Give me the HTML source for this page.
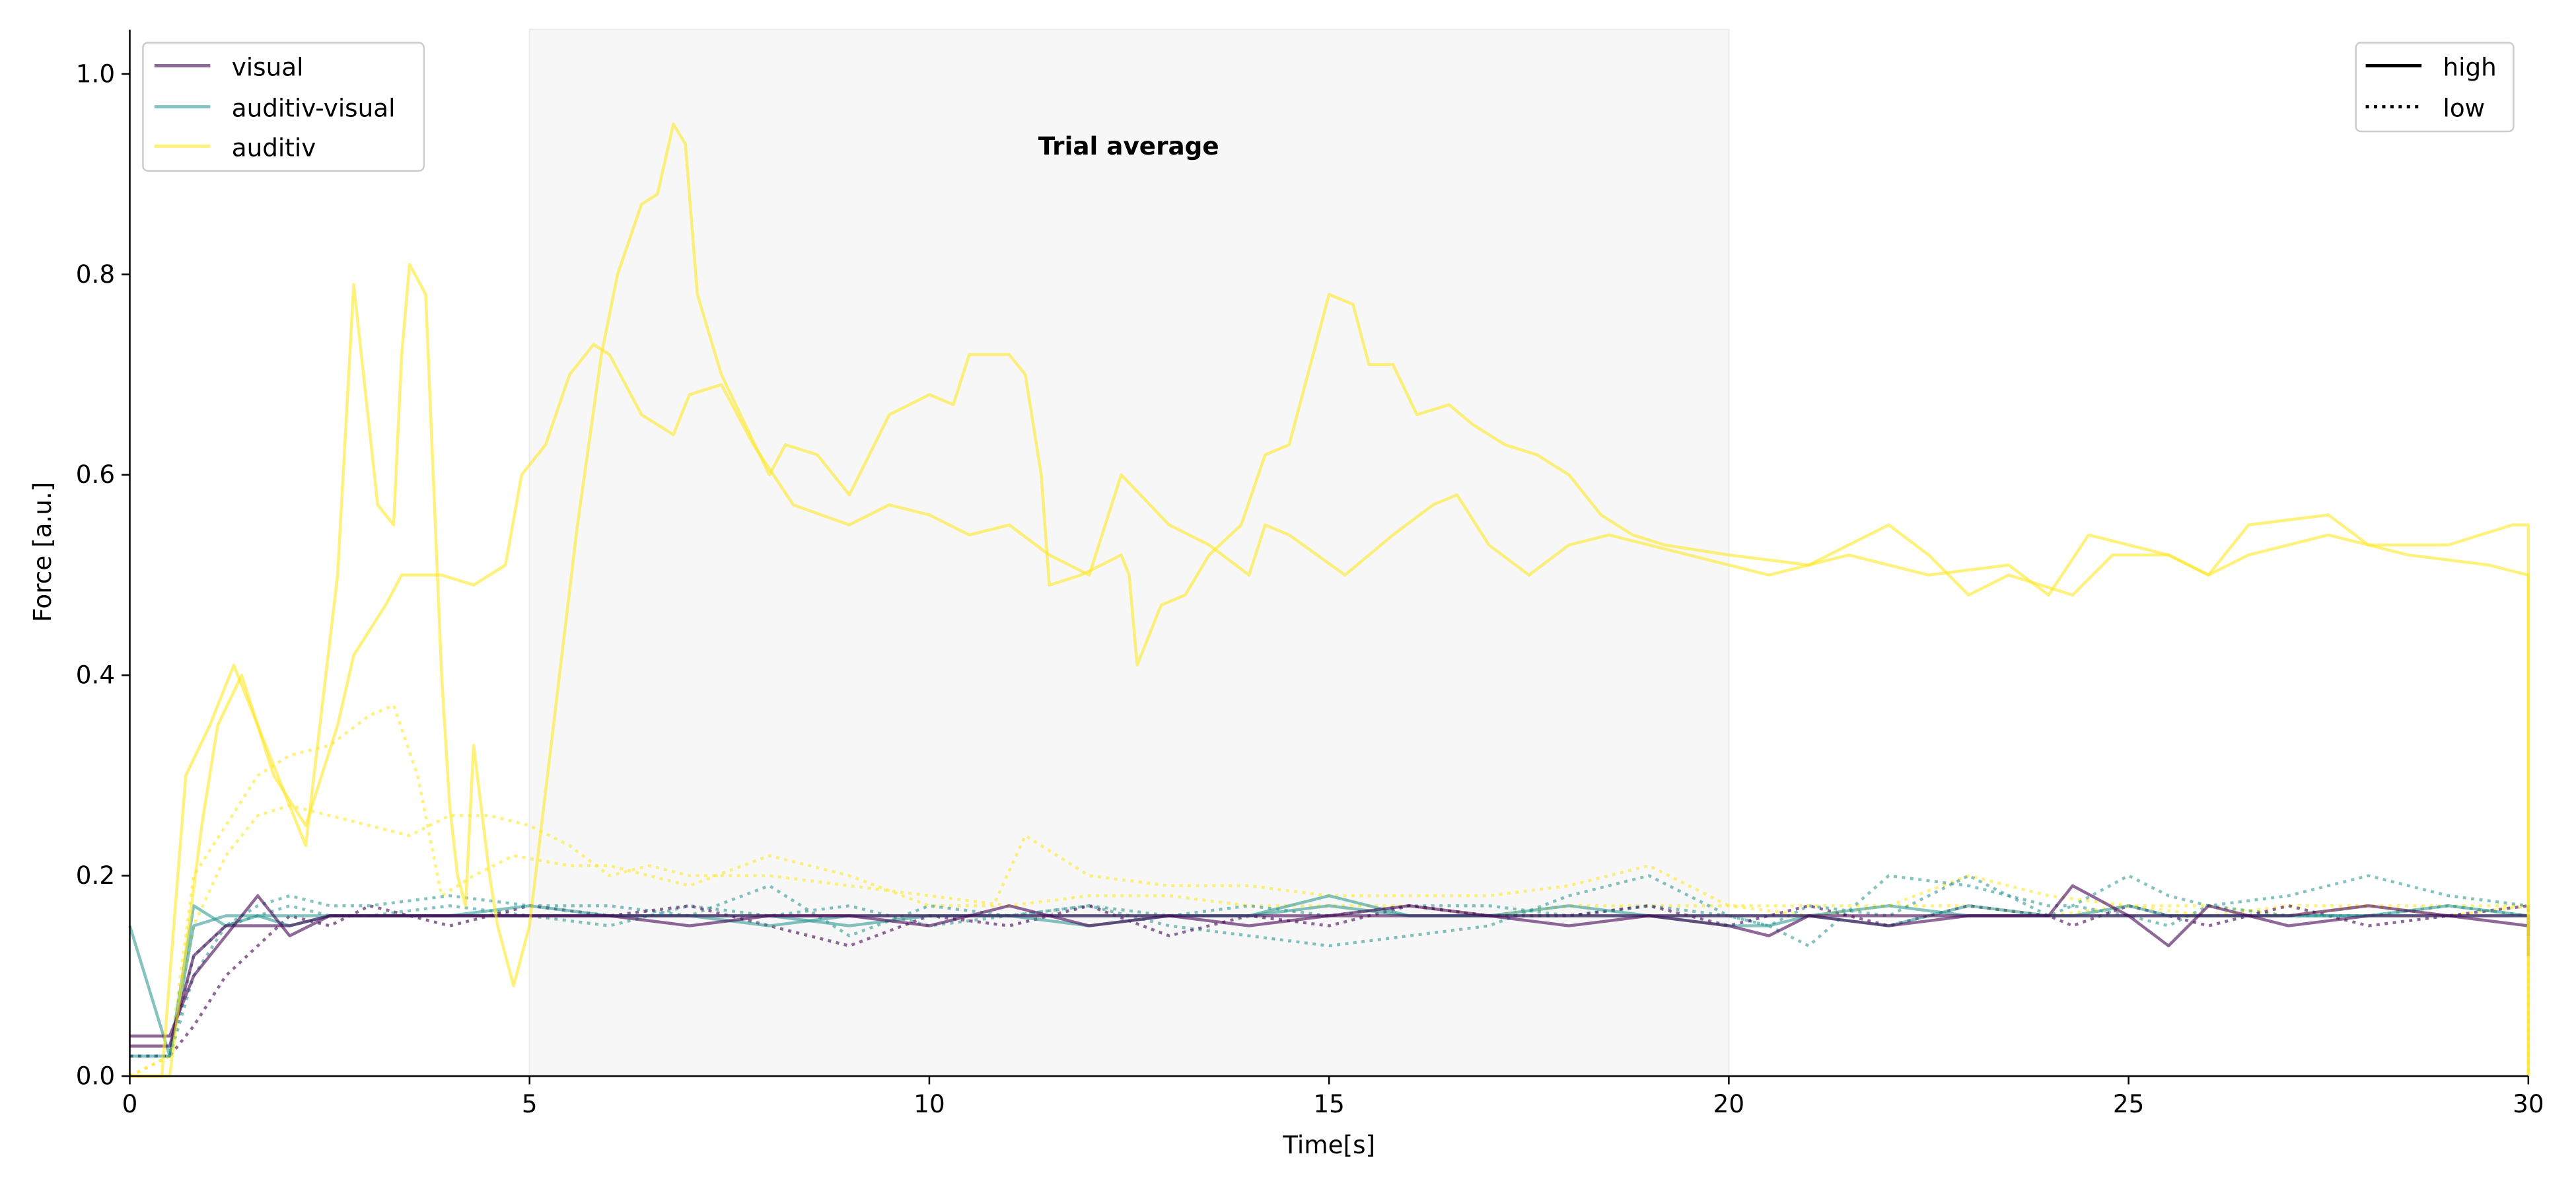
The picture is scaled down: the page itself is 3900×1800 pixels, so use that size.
<!DOCTYPE html>
<html><head><meta charset="utf-8"><style>
html,body{margin:0;padding:0;background:#fff;}
svg{display:block;font-family:"DejaVu Sans","Liberation Sans",sans-serif;}
</style></head><body>
<svg id="chart" width="3900" height="1800" viewBox="0 0 1568 723.7" xmlns="http://www.w3.org/2000/svg">
<rect id="shade" fill="#f7f7f7" stroke="#eeeeee"/>
<text x="687" y="94" text-anchor="middle" font-size="15" font-weight="bold">Trial average</text>
<g id="lines"></g>
<g id="axes"></g>
<text x="809" y="702" text-anchor="middle" font-size="15">Time[s]</text>
<text transform="translate(31,336) rotate(-90)" text-anchor="middle" font-size="15">Force [a.u.]</text>
<g>
<rect x="87" y="26" width="171" height="78" rx="3" fill="#fff" stroke="#ccc"/>
<line x1="94" y1="40" x2="128" y2="40" stroke="#440154" stroke-opacity="0.6" stroke-width="2"/>
<text x="141" y="46" font-size="15">visual</text>
<line x1="94" y1="65" x2="128" y2="65" stroke="#21918c" stroke-opacity="0.55" stroke-width="2"/>
<text x="141" y="71" font-size="15">auditiv-visual</text>
<line x1="94" y1="89" x2="128" y2="89" stroke="#fde725" stroke-opacity="0.6" stroke-width="2"/>
<text x="141" y="95" font-size="15">auditiv</text>
</g>
<g>
<rect x="1434" y="26" width="96" height="54" rx="3" fill="#fff" stroke="#ccc"/>
<line x1="1440" y1="40" x2="1474" y2="40" stroke="#000" stroke-width="2"/>
<text x="1487" y="46" font-size="15">high</text>
<line x1="1440" y1="65" x2="1474" y2="65" stroke="#000" stroke-width="2" stroke-dasharray="2,3"/>
<text x="1487" y="71" font-size="15">low</text>
</g>
</svg>
<script>
const xTicks=[0,5,10,15,20,25,30];
const yTicks=[0,0.2,0.4,0.6,0.8,1.0];
const shadeRange=[5,20];
const audHighAT=[0,0.4,0.7,1.0,1.3,1.6,2.0,2.2,2.6,2.8,3.1,3.3,3.4,3.5,3.7,3.9,4.0,4.1,4.2,4.3,4.5,4.6,4.8,5.0,5.3,5.6,5.9,6.1,6.4,6.6,6.8,6.95,7.1,7.4,7.7,8.0,8.2,8.6,9.0,9.5,10.0,10.3,10.5,11.0,11.2,11.4,11.5,11.9,12.4,12.5,12.6,12.9,13.2,13.5,13.9,14.2,14.5,14.8,15.0,15.3,15.5,15.8,16.1,16.5,16.8,17.2,17.6,18.0,18.4,18.8,19.2,20,21,22,22.5,23,23.5,24.3,24.8,25.5,26,26.5,27.5,28,29,29.8,30,30];
const audHighAV=[0,0,0.3,0.35,0.41,0.35,0.27,0.23,0.5,0.79,0.57,0.55,0.72,0.81,0.78,0.4,0.27,0.2,0.17,0.33,0.2,0.15,0.09,0.15,0.35,0.55,0.72,0.8,0.87,0.88,0.95,0.93,0.78,0.7,0.65,0.6,0.63,0.62,0.58,0.66,0.68,0.67,0.72,0.72,0.7,0.6,0.49,0.5,0.52,0.5,0.41,0.47,0.48,0.52,0.55,0.62,0.63,0.72,0.78,0.77,0.71,0.71,0.66,0.67,0.65,0.63,0.62,0.6,0.56,0.54,0.53,0.52,0.51,0.55,0.52,0.48,0.5,0.48,0.52,0.52,0.5,0.55,0.56,0.53,0.53,0.55,0.55,0];
const audHighBT=[0,0.5,0.9,1.1,1.4,1.8,2.2,2.6,2.8,3.2,3.4,3.9,4.3,4.7,4.9,5.2,5.5,5.8,6.0,6.4,6.8,7.0,7.4,7.8,8.3,9,9.5,10,10.5,11,11.5,12,12.4,13,13.5,14,14.2,14.5,15.2,15.8,16.3,16.6,17,17.5,18,18.5,19,19.5,20.5,21.5,22.5,23.5,24,24.5,25.5,26,26.5,27.5,28.5,29.5,30,30];
const audHighBV=[0,0,0.25,0.35,0.4,0.3,0.25,0.35,0.42,0.47,0.5,0.5,0.49,0.51,0.6,0.63,0.7,0.73,0.72,0.66,0.64,0.68,0.69,0.63,0.57,0.55,0.57,0.56,0.54,0.55,0.52,0.5,0.6,0.55,0.53,0.5,0.55,0.54,0.5,0.54,0.57,0.58,0.53,0.5,0.53,0.54,0.53,0.52,0.5,0.52,0.5,0.51,0.48,0.54,0.52,0.5,0.52,0.54,0.52,0.51,0.5,0];
const audLowAT=[0,0.5,0.8,1.2,1.6,2.0,2.5,3.0,3.5,4.0,4.5,5.0,5.5,6.0,6.5,7,8,9,10,11,12,13,14,15,16,17,18,19,20,21,22,23,24,25,26,27,28,29,30,30];
const audLowAV=[0,0.02,0.15,0.22,0.26,0.27,0.26,0.25,0.24,0.26,0.26,0.25,0.23,0.2,0.21,0.2,0.2,0.19,0.18,0.17,0.18,0.18,0.17,0.17,0.17,0.16,0.17,0.17,0.17,0.16,0.17,0.17,0.16,0.17,0.16,0.17,0.17,0.16,0.17,0];
const audLowBT=[0,0.5,0.8,1.2,1.6,2.0,2.5,3.0,3.3,3.6,3.9,4.3,4.8,5.5,6.0,6.5,7,8,9,10,10.8,11.2,12,13,14,15,16,17,18,19,20,21,22,23,24,25,26,27,28,29,30,30];
const audLowBV=[0,0.02,0.2,0.25,0.3,0.32,0.33,0.36,0.37,0.3,0.18,0.2,0.22,0.21,0.21,0.2,0.19,0.22,0.2,0.17,0.17,0.24,0.2,0.19,0.19,0.18,0.18,0.18,0.19,0.21,0.17,0.17,0.17,0.2,0.18,0.17,0.17,0.16,0.17,0.17,0.17,0];
const visHighT=[0,0.5,0.8,1.2,1.6,2,2.5,3,4,5,6,7,8,9,10,11,12,13,14,15,16,17,18,19,20,20.5,21,22,23,24,24.3,25,25.5,26,27,28,29,30,30];
const visHighAV=[0.04,0.04,0.1,0.14,0.18,0.14,0.16,0.16,0.16,0.16,0.16,0.15,0.16,0.16,0.15,0.17,0.15,0.16,0.15,0.16,0.16,0.16,0.15,0.16,0.15,0.14,0.16,0.15,0.16,0.16,0.19,0.16,0.13,0.17,0.15,0.16,0.16,0.15,0.15];
const visHighBV=[0.03,0.03,0.12,0.15,0.15,0.15,0.16,0.16,0.16,0.16,0.16,0.16,0.16,0.16,0.16,0.16,0.16,0.16,0.16,0.16,0.17,0.16,0.16,0.16,0.16,0.16,0.16,0.16,0.16,0.16,0.16,0.16,0.16,0.16,0.16,0.17,0.16,0.16,0.12];
const visLowV=[0.02,0.02,0.05,0.1,0.13,0.16,0.15,0.17,0.15,0.17,0.16,0.17,0.15,0.13,0.16,0.15,0.17,0.14,0.16,0.15,0.17,0.16,0.16,0.17,0.15,0.16,0.17,0.15,0.17,0.16,0.15,0.17,0.16,0.15,0.17,0.15,0.16,0.17,0.14];
const avHighAV=[0.15,0.02,0.17,0.15,0.16,0.15,0.16,0.16,0.16,0.17,0.16,0.16,0.16,0.15,0.16,0.16,0.16,0.16,0.16,0.17,0.16,0.16,0.17,0.16,0.15,0.15,0.16,0.17,0.16,0.16,0.16,0.17,0.16,0.16,0.16,0.16,0.16,0.16,0.14];
const avHighBV=[0.02,0.02,0.15,0.16,0.16,0.16,0.16,0.16,0.16,0.16,0.16,0.16,0.15,0.16,0.16,0.16,0.15,0.16,0.16,0.18,0.16,0.16,0.16,0.16,0.16,0.16,0.16,0.15,0.17,0.16,0.16,0.16,0.16,0.16,0.16,0.16,0.17,0.16,0.15];
const avLowAV=[0.02,0.02,0.12,0.15,0.17,0.18,0.17,0.17,0.18,0.17,0.17,0.16,0.19,0.14,0.17,0.16,0.17,0.15,0.14,0.13,0.14,0.15,0.18,0.2,0.16,0.15,0.13,0.2,0.19,0.17,0.17,0.2,0.18,0.17,0.18,0.2,0.18,0.17,0.16];
const avLowBV=[0.02,0.02,0.1,0.15,0.16,0.17,0.16,0.16,0.17,0.16,0.15,0.17,0.16,0.17,0.15,0.16,0.17,0.16,0.17,0.16,0.17,0.17,0.16,0.17,0.16,0.15,0.17,0.16,0.2,0.16,0.17,0.16,0.15,0.17,0.16,0.16,0.17,0.16,0.15];

const X0=79,X1=1539,Y0=655,Y1=45;
const xs=v=>X0+(X1-X0)*v/30;
const ys=v=>Y0-(Y0-Y1)*v/1.0;
const NS='http://www.w3.org/2000/svg';
const shade=document.getElementById('shade');
shade.setAttribute('x',xs(shadeRange[0]));shade.setAttribute('y',18);
shade.setAttribute('width',xs(shadeRange[1])-xs(shadeRange[0]));shade.setAttribute('height',Y0-18);
const lines=document.getElementById('lines');
function draw(name,T,V,color,op,dotted){
  const p=document.createElementNS(NS,'path');
  p.setAttribute('d',T.map((t,i)=>(i?'L':'M')+xs(t).toFixed(1)+','+ys(V[i]).toFixed(1)).join(''));
  p.setAttribute('fill','none');p.setAttribute('stroke',color);p.setAttribute('stroke-opacity',op);
  p.setAttribute('stroke-width',1.8);p.setAttribute('stroke-linejoin','round');
  if(dotted)p.setAttribute('stroke-dasharray','2,3');
  
  
  lines.appendChild(p);
}
draw('auditiv-low-a',audLowAT,audLowAV,'#fde725',0.6,true);
draw('auditiv-low-b',audLowBT,audLowBV,'#fde725',0.6,true);
draw('av-low-a',visHighT,avLowAV,'#21918c',0.55,true);
draw('av-low-b',visHighT,avLowBV,'#21918c',0.55,true);
draw('visual-low',visHighT,visLowV,'#440154',0.6,true);
draw('av-high-a',visHighT,avHighAV,'#21918c',0.55,false);
draw('av-high-b',visHighT,avHighBV,'#21918c',0.55,false);
draw('visual-high-a',visHighT,visHighAV,'#440154',0.6,false);
draw('visual-high-b',visHighT,visHighBV,'#440154',0.6,false);
draw('auditiv-high-a',audHighAT,audHighAV,'#fde725',0.6,false);
draw('auditiv-high-b',audHighBT,audHighBV,'#fde725',0.6,false);

const axes=document.getElementById('axes');
function el(tag,attrs){const e=document.createElementNS(NS,tag);for(const k in attrs)e.setAttribute(k,attrs[k]);axes.appendChild(e);return e;}
const sl=el('line',{x1:X0,y1:18,x2:X0,y2:Y0,stroke:'#000','stroke-width':1});


const sb=el('line',{x1:X0,y1:Y0,x2:X1,y2:Y0,stroke:'#000','stroke-width':1});


xTicks.forEach(v=>{
  el('line',{x1:xs(v),y1:Y0,x2:xs(v),y2:Y0+5,stroke:'#000'});
  const t=el('text',{x:xs(v),y:Y0+22,'text-anchor':'middle','font-size':15});
  t.textContent=v;
  
  
});
yTicks.forEach(v=>{
  el('line',{x1:X0-5,y1:ys(v),x2:X0,y2:ys(v),stroke:'#000'});
  const t=el('text',{x:X0-9,y:ys(v)+5,'text-anchor':'end','font-size':15});
  t.textContent=v.toFixed(1);
  
  
});
</script>
</body></html>
